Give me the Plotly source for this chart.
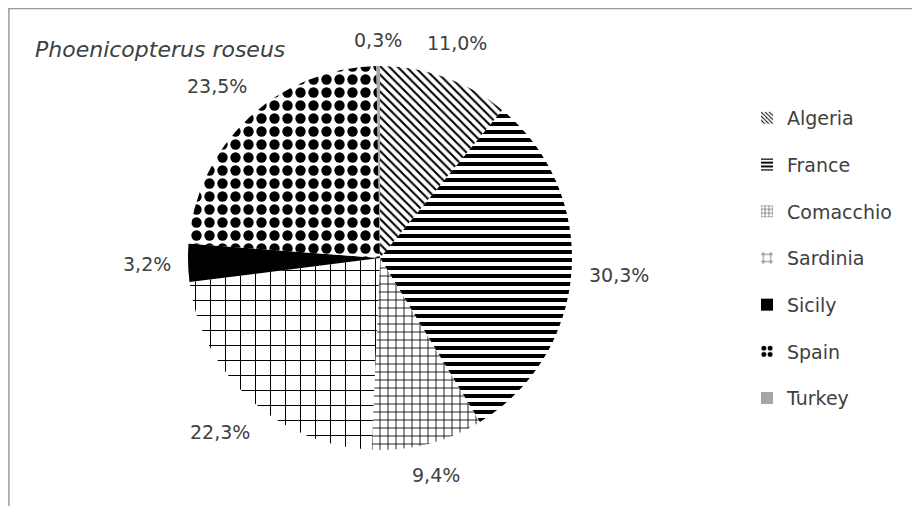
import math
import plotly.graph_objects as go

countries = ["Algeria", "France", "Comacchio", "Sardinia", "Sicily", "Spain", "Turkey"]
shares = [11.0, 30.3, 9.4, 22.3, 3.2, 23.5, 0.3]
label_text = ["11,0%", "30,3%", "9,4%", "22,3%", "3,2%", "23,5%", "0,3%"]

shapes_pat = ["\\", "-", "+", "+", "", ".", ""]
fg = ["black", "black", "black", "black", "black", "black", "#a6a6a6"]
bg = ["white", "white", "white", "white", "black", "white", "#a6a6a6"]
sizes = [6, 8, 8, 15, 8, 13, 8]
solid = [0.35, 0.5, 0.2, 0.13, 0.3, 0.5, 0.3]

W, H = 920, 506
OFF = 8  # page body margin


def px(x):
    return (x - OFF) / W


def py(y):
    return 1 - (y - OFF) / H


cx, cy, r = 380, 258, 192
FONT = "DejaVu Sans"
TXT = "#404040"
LBL = 19

pattern = dict(shape=shapes_pat, fgcolor=fg, bgcolor=bg, size=sizes,
               solidity=solid, fillmode="replace", fgopacity=1)

fig = go.Figure()
fig.add_trace(go.Pie(
    labels=countries,
    values=shares,
    textinfo="none",
    sort=False,
    direction="clockwise",
    rotation=0,
    marker=dict(colors=bg, line=dict(width=0), pattern=pattern),
    domain=dict(x=[px(cx - r), px(cx + r)], y=[py(cy + r), py(cy - r)]),
    showlegend=False,
))

# data labels outside the pie, at each slice's mid-angle
annotations = []
total = sum(shares)
cum = 0.0
gap, hh = 16, 10
for val, txt in zip(shares, label_text):
    mid = (cum + val / 2) / total * 2 * math.pi
    cum += val
    s, c = math.sin(mid), math.cos(mid)
    hw = len(txt) * 0.33 * LBL
    d = r + gap + abs(s) * hw + abs(c) * hh
    annotations.append(dict(
        text=txt, x=px(cx + d * s), y=py(cy - d * c), xref="paper", yref="paper",
        xanchor="center", yanchor="middle", showarrow=False,
        font=dict(size=LBL, color=TXT, family=FONT)))

annotations.append(dict(text="<i>Phoenicopterus roseus</i>", x=px(33), y=py(50),
                        xref="paper", yref="paper", xanchor="left", yanchor="middle",
                        showarrow=False, font=dict(size=22, color=TXT, family=FONT)))

# legend entries (one per slice, same styling as the slices)
for i, name in enumerate(countries):
    fig.add_trace(go.Bar(
        x=[None], y=[None], name=name, legendgroup=name,
        marker=dict(color=bg[i], line=dict(width=0),
                    pattern=dict(shape=shapes_pat[i], fgcolor=fg[i], bgcolor=bg[i],
                                 size=sizes[i] * 0.6, solidity=solid[i],
                                 fillmode="replace", fgopacity=1)),
        showlegend=True, hoverinfo="skip",
    ))

fig.update_layout(
    width=W, height=H,
    margin=dict(l=0, r=0, t=0, b=0),
    paper_bgcolor="white",
    plot_bgcolor="white",
    font=dict(family=FONT, color=TXT),
    xaxis=dict(visible=False),
    yaxis=dict(visible=False),
    legend=dict(x=px(747), y=py(99), xanchor="left", yanchor="top",
                font=dict(size=19, color=TXT), itemwidth=30, tracegroupgap=19,
                bgcolor="rgba(0,0,0,0)"),
    annotations=annotations,
    shapes=[
        dict(type="line", xref="paper", yref="paper", x0=0, x1=1, y0=0.999, y1=0.999,
             line=dict(color="#9a9a9a", width=1.5)),
        dict(type="line", xref="paper", yref="paper", x0=0.001, x1=0.001, y0=0, y1=1,
             line=dict(color="#9a9a9a", width=1.5)),
    ],
)

fig.write_html("out.html")
